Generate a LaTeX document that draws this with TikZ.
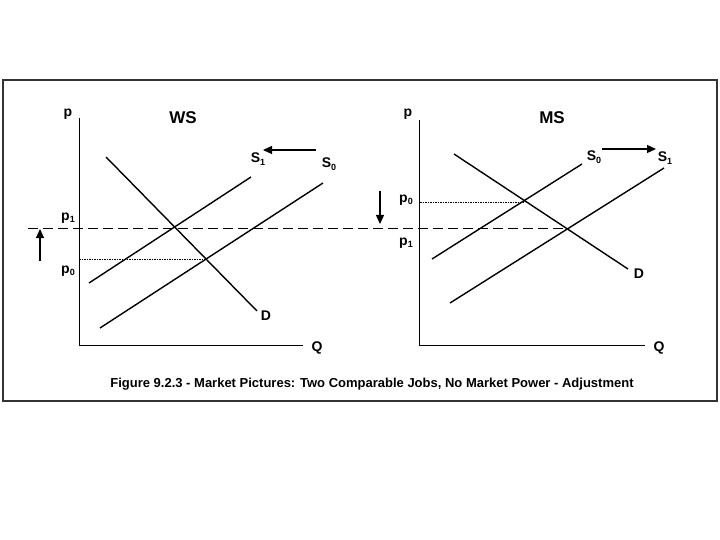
\documentclass[tikz,border=0pt]{standalone}
\usepackage{fontspec}
\setmainfont{Liberation Sans}
\usetikzlibrary{arrows.meta}
\newcommand{\lsub}[1]{\raisebox{-0.35ex}{\fontsize{9}{9}\selectfont #1}}
\begin{document}
\begin{tikzpicture}[x=1pt,y=-1pt,
  curve/.style={line width=1.4pt},
  axis/.style={line width=0.9pt},
  lbl/.style={font=\bfseries\fontsize{14}{14}\selectfont, inner sep=0pt},
  ttl/.style={font=\bfseries\fontsize{17}{17}\selectfont, inner sep=0pt},
  dotl/.style={line width=0.5pt, dash pattern=on 1.5pt off 1pt},
  dashl/.style={line width=0.9pt, dash pattern=on 10pt off 5pt},
  movearrow/.style={line width=1.2pt, -{Triangle[length=9pt,width=8pt]}}]
\useasboundingbox (0,0) rectangle (720,540);
\fill[white] (0,0) rectangle (720,540);
% frame
\draw[line width=1.6pt, black!80] (3,80) rectangle (717,401);

% ---------- left panel (WS) ----------
\coordinate (Lo) at (79,345);
\draw[axis] (79,118) -- (Lo) -- (303,345);
\node[lbl] (Lp) at (68,114) {p};
\node[ttl] (Lws) at (183,118) {WS};
\node[lbl] (LQ) at (317,348) {Q};
% D
\draw[curve] (106,157) -- (257,311);
\node[lbl] (LD) at (266,316) {D};
% S1
\draw[curve] (89,283) -- (251,177);
\node[lbl] (LS1) at (258,159) {S\lsub{1}};
% S0
\draw[curve] (100,328) -- (323,183);
\node[lbl] (LS0) at (329,164) {S\lsub{0}};
% shift arrow
\coordinate (LaS) at (316,150);
\coordinate (LaE) at (263,150);
\draw[movearrow] (LaS) -- (LaE);
% p0 dotted
\draw[dotl] (79,259) -- (206,259);
\node[lbl] (Lp0) at (68,271) {p\lsub{0}};
\node[lbl] (Lp1) at (68,218) {p\lsub{1}};
% up arrow
\draw[movearrow] (40,261) -- (40,229);

% p1 dashed across
\draw[dashl] (28,228) -- (567,228);

% ---------- right panel (MS) ----------
\draw[axis] (419,120) -- (419,345) -- (645,345);
\node[lbl] (Rp) at (408,114) {p};
\node[ttl] (Rms) at (552,118) {MS};
\node[lbl] (RQ) at (659,348) {Q};
% D
\draw[curve] (454,154) -- (628,269);
\node[lbl] (RD) at (639,274) {D};
% S0
\draw[curve] (432,259) -- (582,164);
\node[lbl] (RS0) at (594,157) {S\lsub{0}};
% S1
\draw[curve] (450,303) -- (664,168);
\node[lbl] (RS1) at (665,158) {S\lsub{1}};
% shift arrow
\draw[movearrow] (602,149) -- (656,149);
% p0 dotted
\draw[dotl] (420,202) -- (525,202);
\node[lbl] (Rp0) at (406,200) {p\lsub{0}};
\node[lbl] (Rp1) at (406,243) {p\lsub{1}};
% down arrow
\draw[movearrow] (380,191) -- (380,224);

% caption
\node[font=\bfseries\fontsize{13}{13}\selectfont, inner sep=0pt] (cap) at (372,384)
  {Figure 9.2.3 - Market Pictures: Two Comparable Jobs, No Market Power - Adjustment};
\end{tikzpicture}
\end{document}
